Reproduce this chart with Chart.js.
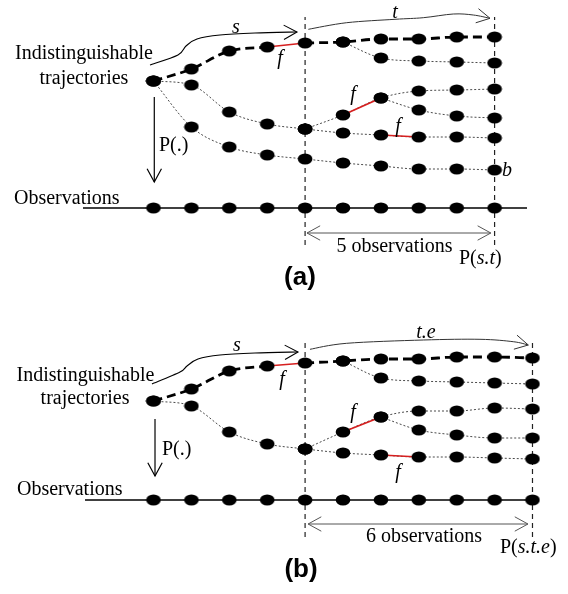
<!DOCTYPE html>
<html><head><meta charset="utf-8">
<script src="https://cdn.jsdelivr.net/npm/chart.js"></script>
<style>html,body{margin:0;padding:0;background:#fff;}canvas{display:block;}</style>
</head><body>
<canvas id="ca" width="568" height="297"></canvas>
<canvas id="cb" width="568" height="297"></canvas>
<script>
// ===== Panel (a) data: step index -> level above the observation line =====
const stepsA = [0,1,2,3,4,5,6,7,8,9];
const obsA   = [0,0,0,0,0,0,0,0,0,0];
const boldA  = [12.7,13.9,15.7,16.1,16.5,16.6,16.9,16.9,17.1,17.1];
const splitA = [null,null,null,null,null,16.6,15.0,14.7,14.6,14.5];
const midA   = [12.7,12.3,9.6,8.4,7.9,null,null,null,null,null];
const riseA  = [null,null,null,null,7.9,9.3,11.0,11.7,11.8,11.9];
const dropA  = [null,null,null,null,null,null,11.0,9.8,9.2,9.0];
const flatA  = [null,null,null,null,7.9,7.5,7.3,7.1,7.1,7.0];
const lowA   = [12.7,8.1,6.1,5.3,4.9,4.5,4.2,3.9,3.9,3.8];
const faultsA = [['bold',3],['rise',5],['flat',6]];
const windowA = [4,9];

// ===== Panel (b) data =====
const stepsB = [0,1,2,3,4,5,6,7,8,9,10];
const obsB   = [0,0,0,0,0,0,0,0,0,0,0];
const boldB  = [9.9,11.1,12.9,13.4,13.7,13.9,14.1,14.1,14.3,14.3,14.2];
const splitB = [null,null,null,null,null,13.9,12.2,11.9,11.8,11.7,11.6];
const midB   = [9.9,9.4,6.8,5.6,5.1,null,null,null,null,null,null];
const riseB  = [null,null,null,null,5.1,6.8,8.3,8.9,8.9,9.2,9.1];
const dropB  = [null,null,null,null,null,null,8.3,7.0,6.5,6.2,6.2];
const flatB  = [null,null,null,null,5.1,4.7,4.5,4.3,4.3,4.2,4.1];
const faultsB = [['bold',3],['rise',5],['flat',6]];
const windowB = [4,10];

const F  = '20px "Liberation Serif", "Times New Roman", serif';
const FI = 'italic 20px "Liberation Serif", "Times New Roman", serif';
const FB = 'bold 26px "Liberation Sans", Arial, sans-serif';

function makeDot(){
  const c=document.createElement('canvas'); c.width=16; c.height=12;
  const g=c.getContext('2d'); g.fillStyle='#000'; g.beginPath();
  g.ellipse(8,6,7.3,5.6,0,0,Math.PI*2); g.fill(); return c;
}
const DOT = makeDot();

function pts(steps, vals){ const o=[]; vals.forEach((v,i)=>{ if(v!==null) o.push({x:steps[i],y:v}); }); return o; }

function head(ctx, from, tip){
  const a=Math.atan2(tip[1]-from[1], tip[0]-from[0]); const L=15, h=0.5;
  ctx.beginPath();
  ctx.moveTo(tip[0]+L*Math.cos(a+Math.PI-h), tip[1]+L*Math.sin(a+Math.PI-h));
  ctx.lineTo(tip[0],tip[1]);
  ctx.lineTo(tip[0]+L*Math.cos(a+Math.PI+h), tip[1]+L*Math.sin(a+Math.PI+h));
  ctx.stroke();
}

function annPlugin(A){
  return { id:'ann', afterDatasetsDraw(chart){
    const ctx=chart.ctx, X=v=>chart.scales.x.getPixelForValue(v), Y=v=>chart.scales.y.getPixelForValue(v);
    ctx.save(); ctx.setLineDash([]);
    A.curves.forEach(c=>{
      const p=c.pts.map(q=>[X(q[0]),Y(q[1])]);
      ctx.strokeStyle=c.color; ctx.lineWidth=c.width;
      ctx.beginPath(); ctx.moveTo(p[0][0],p[0][1]); let last=p[0];
      for(let i=0;i<p.length-1;i++){
        const p0=p[i-1]||p[i], p1=p[i], p2=p[i+1], p3=p[i+2]||p[i+1];
        const c1=[p1[0]+(p2[0]-p0[0])/6, p1[1]+(p2[1]-p0[1])/6];
        const c2=[p2[0]-(p3[0]-p1[0])/6, p2[1]-(p3[1]-p1[1])/6];
        ctx.bezierCurveTo(c1[0],c1[1],c2[0],c2[1],p2[0],p2[1]); last=c2;
      }
      ctx.stroke(); head(ctx,last,p[p.length-1]);
    });
    A.arrows.forEach(a=>{
      const f=[X(a.from[0]),Y(a.from[1])], t=[X(a.to[0]),Y(a.to[1])];
      ctx.strokeStyle=a.color; ctx.lineWidth=a.width;
      ctx.beginPath(); ctx.moveTo(f[0],f[1]); ctx.lineTo(t[0],t[1]); ctx.stroke();
      head(ctx,f,t); if(a.both) head(ctx,t,f);
    });
    ctx.fillStyle='#000'; ctx.textBaseline='alphabetic';
    A.texts.forEach(t=>{
      if(t.parts){
        let x=X(t.x); ctx.textAlign='left';
        t.parts.forEach(([s,font])=>{ ctx.font=font; ctx.fillText(s,x,Y(t.y)); x+=ctx.measureText(s).width; });
      } else {
        ctx.font=t.font; ctx.textAlign=t.align||'center'; ctx.fillText(t.t,X(t.x),Y(t.y));
      }
    });
    ctx.restore();
  }};
}

function buildPanel(id, P){
  const ds=[], nodes=[];
  Object.values(P.series).forEach(s=>pts(P.steps,s).forEach(p=>nodes.push(p)));
  pts(P.steps,P.obs).forEach(p=>nodes.push(p));
  ds.push({data:nodes, pointStyle:DOT, pointRadius:6, showLine:false, order:0});
  P.faults.forEach(([name,k])=>{
    const s=P.series[name];
    ds.push({data:[{x:P.steps[k],y:s[k]},{x:P.steps[k+1],y:s[k+1]}], showLine:true, borderColor:'#d61f1f', borderWidth:1.7, pointRadius:0, tension:0, order:1});
  });
  const bf=P.faults.filter(f=>f[0]==='bold').map(f=>f[1]);
  let seg=[];
  P.series.bold.forEach((v,i)=>{
    seg.push({x:P.steps[i],y:v});
    if(bf.includes(i)||i===P.series.bold.length-1){
      if(seg.length>1) ds.push({data:seg, showLine:true, borderColor:'#000', borderWidth:2.8, borderDash:[9,5], pointRadius:0, cubicInterpolationMode:'monotone', order:2});
      seg=[];
    }
  });
  Object.keys(P.series).filter(k=>k!=='bold').forEach(k=>{
    ds.push({data:pts(P.steps,P.series[k]), showLine:true, borderColor:'#4a4a4a', borderWidth:1, borderDash:[2,2], pointRadius:0, cubicInterpolationMode:'monotone', order:3});
  });
  ds.push({data:[{x:P.obsLine[0],y:0},{x:P.obsLine[1],y:0}], showLine:true, borderColor:'#000', borderWidth:1.6, pointRadius:0, order:3});
  P.window.forEach(w=>{
    ds.push({data:[{x:w,y:P.winY[0]},{x:w,y:P.winY[1]}], showLine:true, borderColor:'#222', borderWidth:1.2, borderDash:[5,4], pointRadius:0, order:3});
  });
  return new Chart(document.getElementById(id), {
    type:'scatter',
    data:{datasets:ds},
    options:{
      responsive:false, animation:false, events:[],
      layout:{padding:0, autoPadding:false},
      scales:{
        x:{type:'linear', display:false, min:-4.05, max:10.937},
        y:{type:'linear', display:false, min:P.yRange[0], max:P.yRange[1]}
      },
      plugins:{legend:{display:false}, tooltip:{enabled:false}}
    },
    plugins:[annPlugin(P.ann)]
  });
}

buildPanel('ca', {
  steps:stepsA, obs:obsA,
  series:{bold:boldA, split:splitA, mid:midA, rise:riseA, drop:dropA, flat:flatA, low:lowA},
  faults:faultsA, window:windowA, winY:[-3.7,19.1], obsLine:[-1.86,9.855], yRange:[-8.9,20.8],
  ann:{
    curves:[
      {pts:[[-0.092,14.3],[0.646,15.3],[0.858,16.2],[1.148,16.9],[1.755,17.3],[2.678,17.5],[3.786,17.6]], color:'#000', width:1.1},
      {pts:[[4.085,17.87],[5.098,18.53],[6.372,18.87],[7.119,19.03],[7.91,19.4],[8.438,19.3],[8.879,18.97]], color:'#333', width:1}
    ],
    arrows:[
      {from:[0.021,11.1], to:[0.021,2.6], color:'#000', width:1.2},
      {from:[windowA[0]+0.05,-2.5], to:[windowA[1]-0.1,-2.5], both:true, color:'#555', width:1}
    ],
    texts:[
      {t:'Indistinguishable', x:-1.834, y:14.9, font:F},
      {t:'trajectories', x:-1.834, y:12.45, font:F},
      {t:'Observations', x:-3.681, y:0.4, font:F, align:'left'},
      {t:'P(.)', x:0.145, y:5.7, font:F, align:'left'},
      {t:'s', x:2.177, y:17.5, font:FI},
      {t:'f', x:3.338, y:14.4, font:FI},
      {t:'f', x:5.264, y:10.8, font:FI},
      {t:'f', x:6.451, y:7.6, font:FI},
      {t:'t', x:6.372, y:19.0, font:FI},
      {t:'b', x:9.195, y:3.2, font:FI, align:'left'},
      {t:'5 observations', x:6.359, y:-4.4, font:F},
      {x:8.061, y:-5.6, parts:[['P(',F],['s.t',FI],[')',F]]},
      {t:'(a)', x:3.865, y:-7.65, font:FB}
    ]
  }
});

buildPanel('cb', {
  steps:stepsB, obs:obsB,
  series:{bold:boldB, split:splitB, mid:midB, rise:riseB, drop:dropB, flat:flatB},
  faults:faultsB, window:windowB, winY:[-3.7,16.0], obsLine:[-1.807,10.14], yRange:[-9.4,20.3],
  ann:{
    curves:[
      {pts:[[-0.04,11.6],[0.699,12.8],[0.884,13.4],[1.174,14.1],[1.755,14.5],[2.678,14.7],[3.813,14.8]], color:'#000', width:1.1},
      {pts:[[4.129,15.07],[5.098,15.67],[7.119,16.0],[8.615,16.07],[9.493,15.83],[9.889,15.5]], color:'#333', width:1}
    ],
    arrows:[
      {from:[0.04,8.1], to:[0.04,2.4], color:'#000', width:1.2},
      {from:[windowB[0]+0.08,-2.4], to:[windowB[1]-0.12,-2.4], both:true, color:'#555', width:1}
    ],
    texts:[
      {t:'Indistinguishable', x:-1.794, y:11.9, font:F},
      {t:'trajectories', x:-1.807, y:9.6, font:F},
      {t:'Observations', x:-3.602, y:0.5, font:F, align:'left'},
      {t:'P(.)', x:0.224, y:4.5, font:F, align:'left'},
      {t:'s', x:2.203, y:14.9, font:FI},
      {t:'f', x:3.391, y:11.5, font:FI},
      {t:'f', x:5.264, y:8.2, font:FI},
      {t:'f', x:6.451, y:2.2, font:FI},
      {t:'t.e', x:7.19, y:16.2, font:FI},
      {t:'6 observations', x:7.137, y:-4.2, font:F},
      {x:9.142, y:-5.3, parts:[['P(',F],['s.t.e',FI],[')',F]]},
      {t:'(b)', x:3.892, y:-7.65, font:FB}
    ]
  }
});
</script>
</body></html>
